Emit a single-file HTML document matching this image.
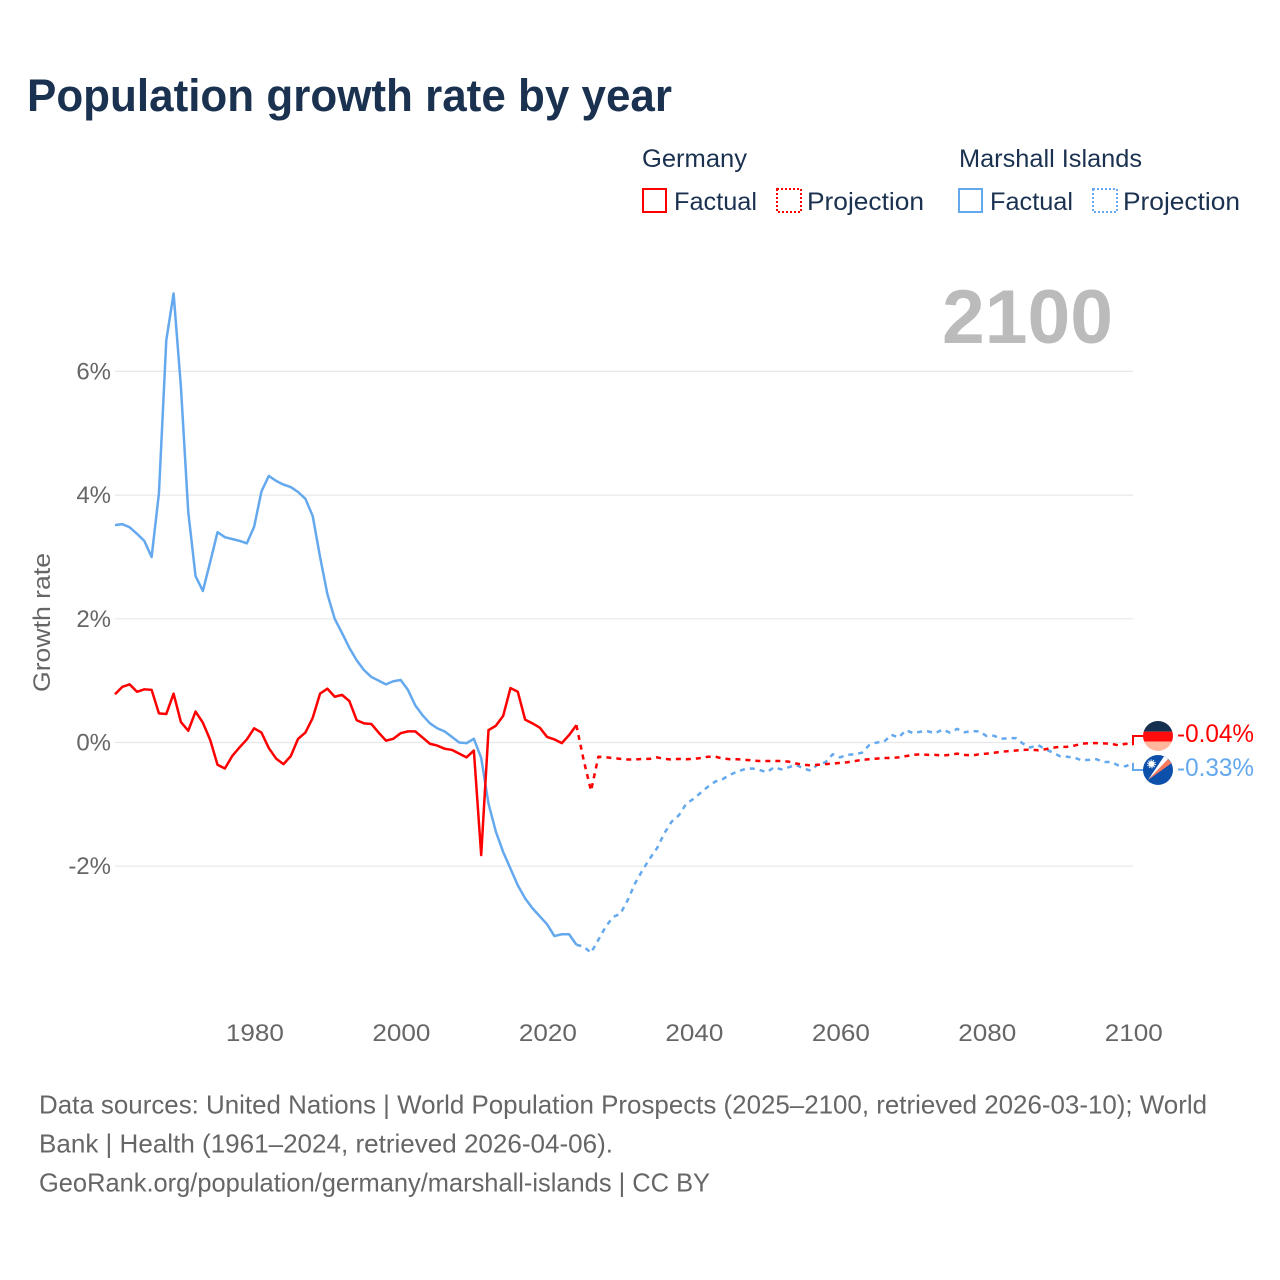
<!DOCTYPE html>
<html lang="en">
<head>
<meta charset="utf-8">
<title>Population growth rate by year</title>
<style>
html,body{margin:0;padding:0;background:#fff;width:1280px;height:1280px;overflow:hidden}
svg{display:block}
text{font-family:"Liberation Sans",sans-serif}
</style>
</head>
<body>
<svg id="chart" xmlns="http://www.w3.org/2000/svg" width="1280" height="1280" viewBox="0 0 1280 1280">
  <rect x="0" y="0" width="1280" height="1280" fill="#fff"/>
  <text x="27" y="111" font-size="45" font-weight="700" fill="#1a3150" textLength="645" lengthAdjust="spacingAndGlyphs">Population growth rate by year</text>

  <g font-size="25" fill="#1a3150">
    <text x="642" y="167" textLength="105" lengthAdjust="spacingAndGlyphs">Germany</text>
    <text x="959" y="167" textLength="183" lengthAdjust="spacingAndGlyphs">Marshall Islands</text>
    <rect x="643" y="189" width="23" height="23" fill="none" stroke="#ff0000" stroke-width="2"/>
    <text x="674" y="210" textLength="83" lengthAdjust="spacingAndGlyphs">Factual</text>
    <rect x="777" y="189" width="24" height="23" fill="none" stroke="#ff0000" stroke-width="2" stroke-dasharray="2 2"/>
    <text x="807" y="210" textLength="117" lengthAdjust="spacingAndGlyphs">Projection</text>
    <rect x="959" y="189" width="23" height="23" fill="none" stroke="#64a8ee" stroke-width="2"/>
    <text x="990" y="210" textLength="83" lengthAdjust="spacingAndGlyphs">Factual</text>
    <rect x="1093" y="189" width="24" height="23" fill="none" stroke="#64a8ee" stroke-width="2" stroke-dasharray="2 2"/>
    <text x="1123" y="210" textLength="117" lengthAdjust="spacingAndGlyphs">Projection</text>
  </g>

  <text x="942" y="343" font-size="76" font-weight="700" fill="#bbbbbb" textLength="171" lengthAdjust="spacingAndGlyphs">2100</text>
  <text transform="translate(50,692) rotate(-90)" font-size="24" fill="#666666" textLength="139" lengthAdjust="spacingAndGlyphs">Growth rate</text>

  <g id="grid"></g>
  <g id="yticks"></g>
  <g id="xticks"></g>
  <g id="series"></g>
  <g id="ends"></g>

  <defs>
    <clipPath id="flagClip"><circle cx="0" cy="0" r="15"/></clipPath>
  </defs>
  <g id="flagDe" clip-path="url(#flagClip)">
    <rect x="-16" y="-16" width="32" height="11.7" fill="#16304f"/>
    <rect x="-16" y="-4.3" width="32" height="10" fill="#ff0d0d"/>
    <rect x="-16" y="5.7" width="32" height="11" fill="#ffb69c"/>
  </g>
  <g id="flagMh" clip-path="url(#flagClip)">
    <rect x="-16" y="-16" width="32" height="32" fill="#0d50ab"/>
    <polygon points="-10,10 7,-15 10,-10.7" fill="#ffffff"/>
    <polygon points="-10,10 10,-10.7 13.3,-6.7" fill="#ff7a5c"/>
    <circle cx="-6.5" cy="-6" r="3" fill="#ffffff"/>
    <circle cx="-6.5" cy="-6" r="3.8" fill="none" stroke="#ffffff" stroke-width="1.2" stroke-dasharray="1.2 1.2"/>
  </g>

  <g font-size="26" fill="#666666">
    <text x="39" y="1113.5" textLength="1168" lengthAdjust="spacingAndGlyphs">Data sources: United Nations | World Population Prospects (2025–2100, retrieved 2026-03-10); World</text>
    <text x="39" y="1152.5" textLength="574" lengthAdjust="spacingAndGlyphs">Bank | Health (1961–2024, retrieved 2026-04-06).</text>
    <text x="39" y="1191.5" textLength="671" lengthAdjust="spacingAndGlyphs">GeoRank.org/population/germany/marshall-islands | CC BY</text>
  </g>
</svg>
<script>
const factualStartYear = 1961;
const projectionStartYear = 2024;
const xTickYears = [1980, 2000, 2020, 2040, 2060, 2080, 2100];
const yTickValues = [6, 4, 2, 0, -2];
const germanyFactual = [0.78,0.90,0.94,0.82,0.86,0.85,0.47,0.46,0.79,0.33,0.19,0.50,0.32,0.04,-0.36,-0.42,-0.22,-0.08,0.05,0.23,0.16,-0.09,-0.26,-0.35,-0.22,0.06,0.16,0.40,0.79,0.87,0.74,0.77,0.67,0.36,0.31,0.30,0.16,0.03,0.06,0.15,0.18,0.18,0.08,-0.02,-0.05,-0.10,-0.12,-0.18,-0.24,-0.13,-1.82,0.20,0.27,0.43,0.88,0.82,0.37,0.31,0.24,0.09,0.05,-0.01,0.12,0.28];
const germanyProjection = [0.28,-0.29,-0.78,-0.23,-0.24,-0.25,-0.265,-0.275,-0.275,-0.265,-0.265,-0.24,-0.265,-0.275,-0.265,-0.27,-0.265,-0.25,-0.23,-0.23,-0.26,-0.27,-0.27,-0.28,-0.29,-0.30,-0.30,-0.30,-0.30,-0.31,-0.34,-0.36,-0.37,-0.36,-0.35,-0.34,-0.33,-0.32,-0.30,-0.28,-0.27,-0.26,-0.25,-0.25,-0.24,-0.22,-0.20,-0.19,-0.20,-0.20,-0.21,-0.20,-0.18,-0.20,-0.21,-0.19,-0.18,-0.165,-0.15,-0.14,-0.13,-0.12,-0.115,-0.125,-0.11,-0.085,-0.07,-0.07,-0.05,-0.02,-0.01,-0.01,-0.015,-0.02,-0.045,-0.02,-0.04];
const marshallFactual = [3.515,3.53,3.48,3.375,3.26,3.0,4.03,6.5,7.26,5.75,3.73,2.69,2.45,2.92,3.40,3.32,3.29,3.26,3.22,3.49,4.06,4.31,4.23,4.17,4.13,4.05,3.94,3.66,3.0,2.40,2.0,1.77,1.53,1.33,1.17,1.06,1.0,0.94,0.99,1.01,0.85,0.60,0.44,0.31,0.23,0.18,0.09,0.0,-0.01,0.06,-0.25,-0.99,-1.44,-1.77,-2.04,-2.31,-2.52,-2.68,-2.81,-2.94,-3.13,-3.10,-3.10,-3.27];
const marshallProjection = [-3.27,-3.30,-3.40,-3.19,-2.98,-2.82,-2.77,-2.55,-2.28,-2.07,-1.88,-1.71,-1.47,-1.28,-1.175,-0.99,-0.91,-0.81,-0.71,-0.63,-0.59,-0.52,-0.47,-0.43,-0.42,-0.445,-0.48,-0.40,-0.435,-0.40,-0.36,-0.42,-0.455,-0.35,-0.32,-0.19,-0.24,-0.20,-0.19,-0.165,-0.04,0.0,0.01,0.125,0.08,0.20,0.15,0.175,0.18,0.15,0.21,0.16,0.22,0.165,0.185,0.18,0.105,0.11,0.06,0.07,0.07,-0.02,-0.08,-0.04,-0.105,-0.16,-0.22,-0.23,-0.245,-0.29,-0.28,-0.27,-0.315,-0.315,-0.37,-0.385,-0.33];

const NS = 'http://www.w3.org/2000/svg';
const plotLeft = 115, plotRight = 1133;
function xScale(year) { return plotLeft + (year - 1961) * (plotRight - plotLeft) / (2100 - 1961); }
function yScale(value) { return 742.5 - value * 61.85; }
function linePath(values, startYear) {
  return values.map(function (v, i) {
    return (i ? 'L' : 'M') + xScale(startYear + i).toFixed(2) + ' ' + yScale(v).toFixed(2);
  }).join(' ');
}

const grid = document.getElementById('grid');
const yticks = document.getElementById('yticks');
yTickValues.forEach(function (v) {
  const ln = document.createElementNS(NS, 'line');
  
  
  ln.setAttribute('x1', plotLeft);
  ln.setAttribute('x2', plotRight);
  ln.setAttribute('y1', yScale(v));
  ln.setAttribute('y2', yScale(v));
  ln.setAttribute('stroke', '#e8e8e8');
  ln.setAttribute('stroke-width', '1.2');
  grid.appendChild(ln);
  const t = document.createElementNS(NS, 'text');
  
  
  t.setAttribute('x', 111);
  t.setAttribute('y', yScale(v) + 8);
  t.setAttribute('text-anchor', 'end');
  t.setAttribute('font-size', '24');
  t.setAttribute('fill', '#666666');
  t.textContent = v + '%';
  yticks.appendChild(t);
});

const xticks = document.getElementById('xticks');
xTickYears.forEach(function (y) {
  const t = document.createElementNS(NS, 'text');
  
  
  t.setAttribute('x', xScale(y) + 0.8);
  t.setAttribute('y', 1041);
  t.setAttribute('text-anchor', 'middle');
  t.setAttribute('font-size', '24');
  t.setAttribute('fill', '#666666');
  t.setAttribute('textLength', '58');
  t.setAttribute('lengthAdjust', 'spacingAndGlyphs');
  t.textContent = y;
  xticks.appendChild(t);
});

const series = document.getElementById('series');
function addLine(d, color, dashed, name) {
  const p = document.createElementNS(NS, 'path');
  p.setAttribute('d', d);
  p.setAttribute('fill', 'none');
  p.setAttribute('stroke', color);
  p.setAttribute('stroke-width', '2.5');
  p.setAttribute('stroke-linejoin', 'round');
  if (dashed) p.setAttribute('stroke-dasharray', '5 5');
  p.setAttribute('data-series', name);
  series.appendChild(p);
  return p;
}
const blue = '#64a8ee', red = '#ff0000';
let lineEl;
lineEl = addLine(linePath(marshallFactual, factualStartYear), blue, false, 'marshall-factual');


lineEl = addLine(linePath(marshallProjection, projectionStartYear), blue, true, 'marshall-projection');


lineEl = addLine(linePath(germanyFactual, factualStartYear), red, false, 'germany-factual');


lineEl = addLine(linePath(germanyProjection, projectionStartYear), red, true, 'germany-projection');



const lastDe = germanyProjection[germanyProjection.length - 1];
const lastMh = marshallProjection[marshallProjection.length - 1];
const mid = (yScale(lastDe) + yScale(lastMh)) / 2 - 1;
const deTop = yScale(lastDe) <= yScale(lastMh);
const labelDeY = deTop ? mid - 17 : mid + 17;
const labelMhY = deTop ? mid + 17 : mid - 17;

const ends = document.getElementById('ends');
[[lastDe, labelDeY, red, '-germany'], [lastMh, labelMhY, blue, '-marshall']].forEach(function (row) {
  const c = document.createElementNS(NS, 'path');
  
  
  c.setAttribute('d', 'M' + plotRight + ' ' + yScale(row[0]) + ' L' + plotRight + ' ' + row[1] + ' L1144 ' + row[1]);
  c.setAttribute('fill', 'none');
  c.setAttribute('stroke', row[2]);
  c.setAttribute('stroke-width', '2');
  ends.appendChild(c);
  const t = document.createElementNS(NS, 'text');
  
  
  t.setAttribute('x', 1177);
  t.setAttribute('y', row[1] + 6);
  t.setAttribute('font-size', '25');
  t.setAttribute('fill', row[2]);
  t.setAttribute('textLength', '77');
  t.setAttribute('lengthAdjust', 'spacingAndGlyphs');
  t.textContent = row[0].toFixed(2) + '%';
  ends.appendChild(t);
});
document.getElementById('flagDe').setAttribute('transform', 'translate(1158,' + labelDeY + ')');
document.getElementById('flagMh').setAttribute('transform', 'translate(1158,' + labelMhY + ')');
</script>
</body>
</html>
